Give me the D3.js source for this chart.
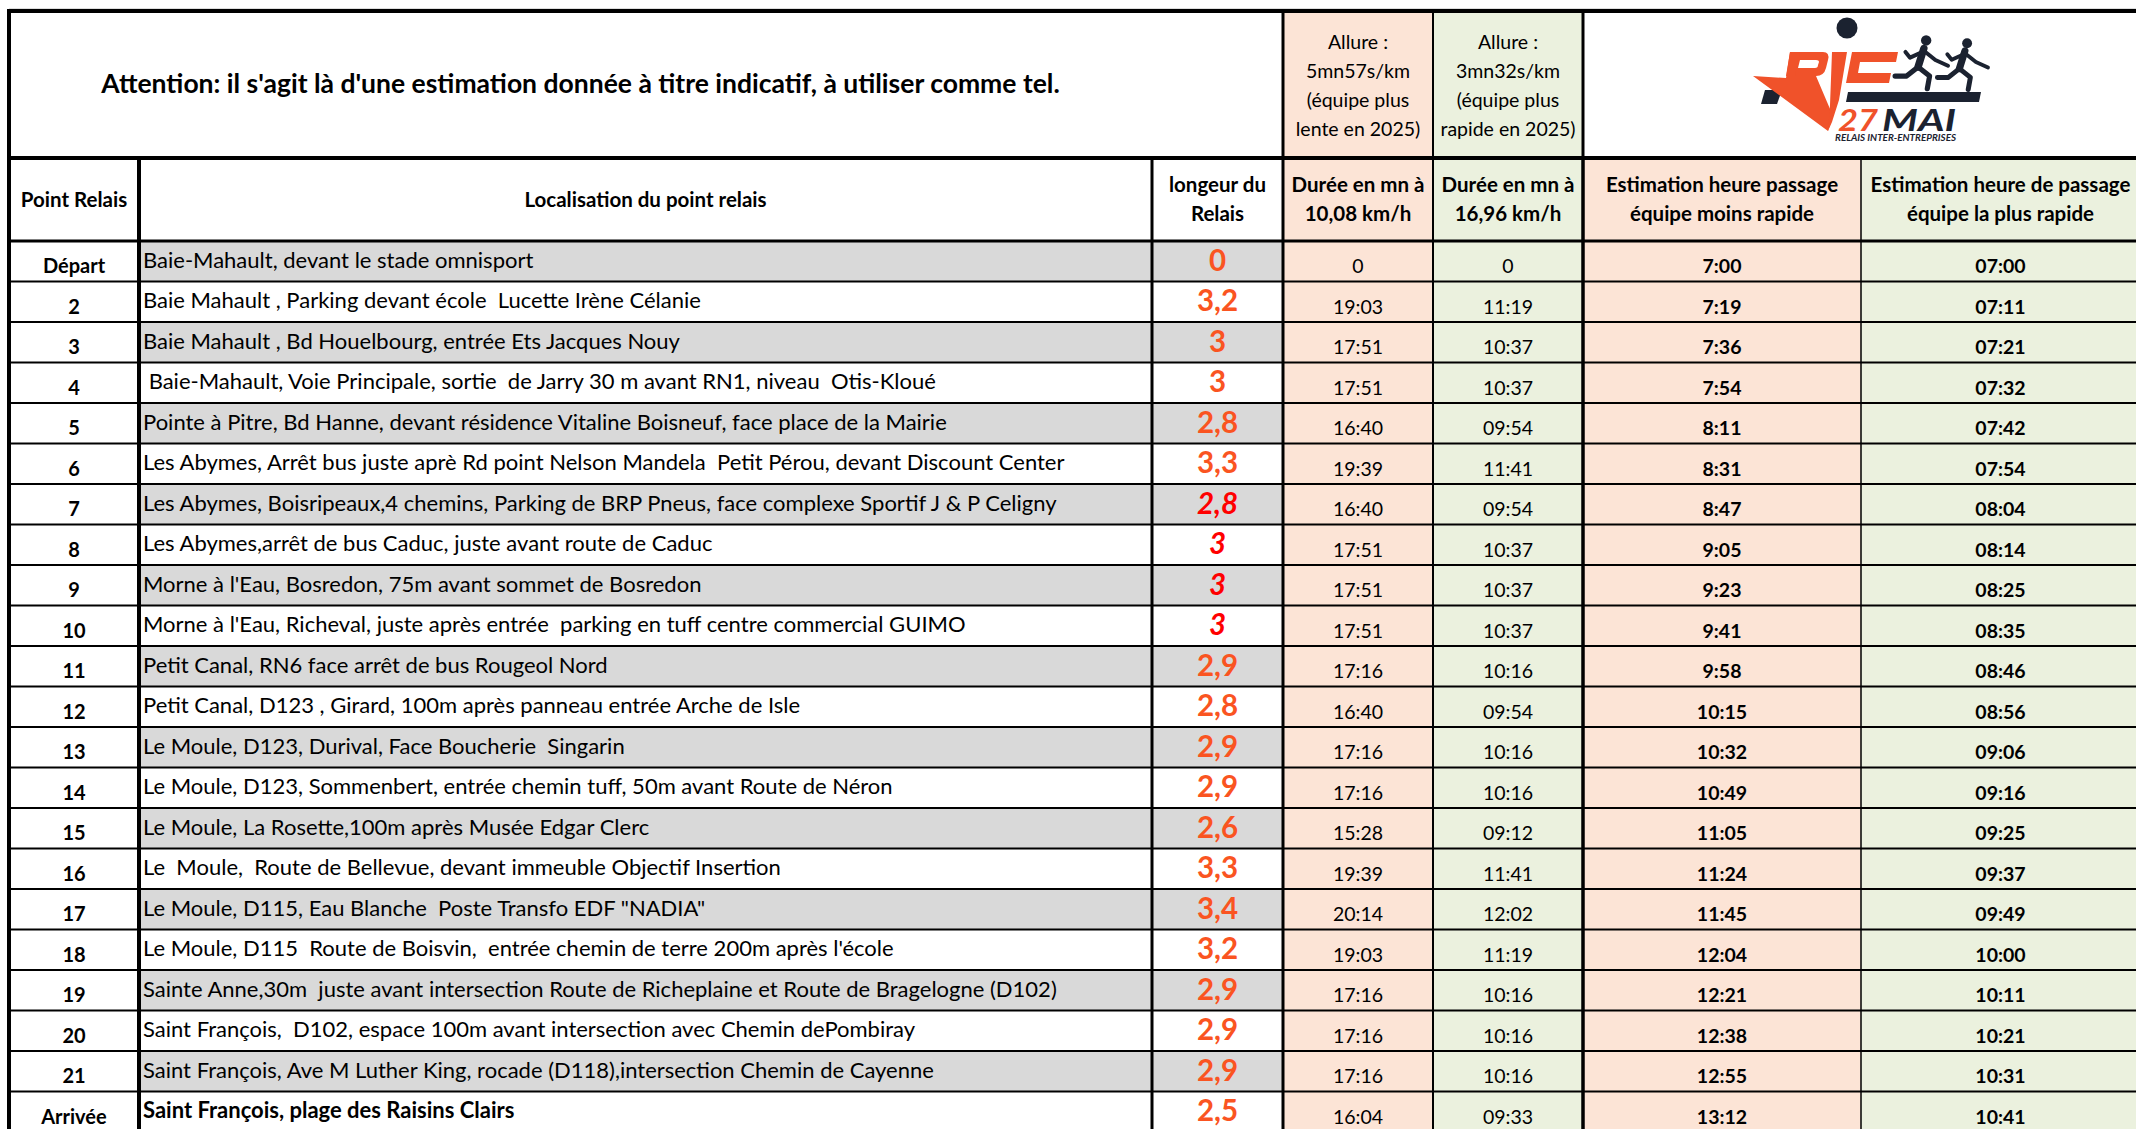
<!DOCTYPE html>
<html>
<head>
<meta charset="utf-8">
<script src="https://cdn.jsdelivr.net/npm/d3@7"></script>
<style>
  body { margin: 0; background: #fff; }
  svg { display: block; }
  text { font-family: Lato, 'Open Sans', sans-serif; white-space: pre; }
</style>
</head>
<body>
<script>
// data
const relais = ['Départ', '2', '3', '4', '5', '6', '7', '8', '9', '10', '11', '12', '13', '14', '15', '16', '17', '18', '19', '20', '21', 'Arrivée'];
const lieux = [
  'Baie-Mahault, devant le stade omnisport',
  'Baie Mahault , Parking devant école  Lucette Irène Célanie',
  'Baie Mahault , Bd Houelbourg, entrée Ets Jacques Nouy',
  ' Baie-Mahault, Voie Principale, sortie  de Jarry 30 m avant RN1, niveau  Otis-Kloué',
  'Pointe à Pitre, Bd Hanne, devant résidence Vitaline Boisneuf, face place de la Mairie',
  'Les Abymes, Arrêt bus juste aprè Rd point Nelson Mandela  Petit Pérou, devant Discount Center',
  'Les Abymes, Boisripeaux,4 chemins, Parking de BRP Pneus, face complexe Sportif J & P Celigny',
  'Les Abymes,arrêt de bus Caduc, juste avant route de Caduc',
  "Morne à l'Eau, Bosredon, 75m avant sommet de Bosredon",
  "Morne à l'Eau, Richeval, juste après entrée  parking en tuff centre commercial GUIMO",
  'Petit Canal, RN6 face arrêt de bus Rougeol Nord',
  'Petit Canal, D123 , Girard, 100m après panneau entrée Arche de Isle',
  'Le Moule, D123, Durival, Face Boucherie  Singarin',
  'Le Moule, D123, Sommenbert, entrée chemin tuff, 50m avant Route de Néron',
  'Le Moule, La Rosette,100m après Musée Edgar Clerc',
  'Le  Moule,  Route de Bellevue, devant immeuble Objectif Insertion',
  'Le Moule, D115, Eau Blanche  Poste Transfo EDF "NADIA"',
  "Le Moule, D115  Route de Boisvin,  entrée chemin de terre 200m après l'école",
  'Sainte Anne,30m  juste avant intersection Route de Richeplaine et Route de Bragelogne (D102)',
  'Saint François,  D102, espace 100m avant intersection avec Chemin dePombiray',
  'Saint François, Ave M Luther King, rocade (D118),intersection Chemin de Cayenne',
  'Saint François, plage des Raisins Clairs'
];
const longueurs = [0, 3.2, 3, 3, 2.8, 3.3, 2.8, 3, 3, 3, 2.9, 2.8, 2.9, 2.9, 2.6, 3.3, 3.4, 3.2, 2.9, 2.9, 2.9, 2.5];
const dureeLente = ['0', '19:03', '17:51', '17:51', '16:40', '19:39', '16:40', '17:51', '17:51', '17:51', '17:16', '16:40', '17:16', '17:16', '15:28', '19:39', '20:14', '19:03', '17:16', '17:16', '17:16', '16:04'];
const dureeRapide = ['0', '11:19', '10:37', '10:37', '09:54', '11:41', '09:54', '10:37', '10:37', '10:37', '10:16', '09:54', '10:16', '10:16', '09:12', '11:41', '12:02', '11:19', '10:16', '10:16', '10:16', '09:33'];
const heureLente = ['7:00', '7:19', '7:36', '7:54', '8:11', '8:31', '8:47', '9:05', '9:23', '9:41', '9:58', '10:15', '10:32', '10:49', '11:05', '11:24', '11:45', '12:04', '12:21', '12:38', '12:55', '13:12'];
const heureRapide = ['07:00', '07:11', '07:21', '07:32', '07:42', '07:54', '08:04', '08:14', '08:25', '08:35', '08:46', '08:56', '09:06', '09:16', '09:25', '09:37', '09:49', '10:00', '10:11', '10:21', '10:31', '10:41'];
const enteteColonnes = [
  ['Point Relais'],
  ['Localisation du point relais'],
  ['longeur du', 'Relais'],
  ['Durée en mn à', '10,08 km/h'],
  ['Durée en mn à', '16,96 km/h'],
  ['Estimation heure passage', 'équipe moins rapide'],
  ['Estimation heure de passage', 'équipe la plus rapide']
];
const allures = [
  ['Allure :', '5mn57s/km', '(équipe plus', 'lente en 2025)'],
  ['Allure :', '3mn32s/km', '(équipe plus', 'rapide en 2025)']
];
const avertissement = "Attention: il s'agit là d'une estimation donnée à titre indicatif, à utiliser comme tel.";
const enRouge = new Set(['7', '8', '9', '10']);

const width = 2136;
const height = 1129;
const peach = '#fce4d6';
const green = '#ebf1de';
const grey = '#d9d9d9';
const colEdges = [9, 139, 1152, 1283, 1433, 1583, 1861, 2140];
const colFill = [null, null, null, peach, green, peach, green];
const topY = 11, headY = 158, bodyY = 241, rowH = 40.5;

const svg = d3.select('body').append('svg').attr('width', width).attr('height', height);

const y = d3.scaleBand().domain(d3.range(relais.length)).range([bodyY, bodyY + rowH * relais.length]);
const fmt = v => String(v).replace('.', ',');
const cx = i => (colEdges[i] + colEdges[i + 1]) / 2;

//backgrounds
const bg = svg.append('g').attr('class', 'bg');
[[3, peach], [4, green]].forEach(([c, f]) =>
  bg.append('rect').attr('x', colEdges[c]).attr('y', topY).attr('width', colEdges[c + 1] - colEdges[c]).attr('height', headY - topY).attr('fill', f));
colFill.forEach((f, c) => {
  if (!f) return;
  bg.append('rect').attr('x', colEdges[c]).attr('y', headY).attr('width', colEdges[c + 1] - colEdges[c]).attr('height', height - headY).attr('fill', f);
});
bg.selectAll('rect.band')
  .data(relais.map((r, i) => i).filter(i => i % 2 === 0))
  .join('rect')
  .attr('class', 'band')
  .attr('x', colEdges[1]).attr('width', colEdges[3] - colEdges[1])
  .attr('y', d => y(d)).attr('height', y.bandwidth())
  .attr('fill', grey);

//grid lines
const lines = svg.append('g').attr('class', 'lines').attr('stroke', '#000');
const rowLine = d => bodyY + rowH * d;
lines.selectAll('line.row')
  .data(d3.range(1, relais.length + 1))
  .join('line')
  .attr('x1', colEdges[0]).attr('x2', width)
  .attr('y1', rowLine).attr('y2', rowLine)
  .attr('stroke-width', 2);
lines.append('line').attr('x1', colEdges[0]).attr('x2', width).attr('y1', topY - 2).attr('y2', topY - 2).attr('stroke', '#bbb').attr('stroke-width', 1);
lines.append('line').attr('x1', colEdges[0]).attr('x2', width).attr('y1', topY).attr('y2', topY).attr('stroke-width', 4);
lines.append('line').attr('x1', colEdges[0]).attr('x2', width).attr('y1', headY).attr('y2', headY).attr('stroke-width', 4);
lines.append('line').attr('x1', colEdges[0]).attr('x2', width).attr('y1', bodyY).attr('y2', bodyY).attr('stroke-width', 3);
lines.append('line').attr('x1', colEdges[0]).attr('x2', colEdges[0]).attr('y1', topY - 2).attr('y2', height).attr('stroke-width', 4);
const vBody = [[1, 4], [2, 3], [3, 3], [4, 2], [5, 3.5], [6, 1.5]];
vBody.forEach(([c, w]) =>
  lines.append('line').attr('x1', colEdges[c]).attr('x2', colEdges[c]).attr('y1', headY).attr('y2', height).attr('stroke-width', w));
[[3, 3], [4, 2], [5, 3]].forEach(([c, w]) =>
  lines.append('line').attr('x1', colEdges[c]).attr('x2', colEdges[c]).attr('y1', topY).attr('y2', headY).attr('stroke-width', w));

//top header
const head = svg.append('g').attr('class', 'head').attr('fill', '#000');
head.append('text')
  .text(avertissement)
  .attr('x', (colEdges[0] + colEdges[2]) / 2).attr('y', 93)
  .attr('text-anchor', 'middle').attr('font-weight', 'bold').attr('font-size', 26.5);
allures.forEach((ls, k) => {
  head.selectAll(null).data(ls).join('text')
    .text(d => d)
    .attr('x', cx(3 + k)).attr('y', (d, i) => 49 + i * 29)
    .attr('text-anchor', 'middle').attr('font-size', 19.5);
});

//column headers
enteteColonnes.forEach((ls, c) => {
  const y0 = ls.length === 1 ? 207 : 192;
  head.selectAll(null).data(ls).join('text')
    .text(d => d)
    .attr('x', cx(c)).attr('y', (d, i) => y0 + i * 29)
    .attr('text-anchor', 'middle').attr('font-weight', 'bold').attr('font-size', 20.5);
});

//body cells
const body = svg.append('g').attr('class', 'body');
const rows = body.selectAll('g.row')
  .data(relais.map((r, i) => ({ i, r, lieu: lieux[i], km: longueurs[i], dl: dureeLente[i], dr: dureeRapide[i], hl: heureLente[i], hr: heureRapide[i] })))
  .join('g')
  .attr('class', 'row')
  .attr('transform', d => `translate(0,${y(d.i)})`);

rows.append('text').text(d => d.r)
  .attr('x', cx(0)).attr('y', 32).attr('text-anchor', 'middle')
  .attr('font-weight', 'bold').attr('font-size', 20);
rows.append('text').text(d => d.lieu)
  .attr('x', colEdges[1] + 4).attr('y', 26.5)
  .attr('font-weight', d => d.r === 'Arrivée' ? 'bold' : 'normal').attr('font-size', 22);
rows.append('text').text(d => fmt(d.km))
  .attr('x', cx(2)).attr('y', 29.5).attr('text-anchor', 'middle')
  .attr('font-weight', 'bold').attr('font-size', 29.5)
  .attr('font-style', d => enRouge.has(d.r) ? 'italic' : 'normal')
  .attr('fill', d => enRouge.has(d.r) ? '#ff0000' : '#fa5421');
rows.append('text').text(d => d.dl)
  .attr('x', cx(3)).attr('y', 32).attr('text-anchor', 'middle').attr('font-size', 19.5);
rows.append('text').text(d => d.dr)
  .attr('x', cx(4)).attr('y', 32).attr('text-anchor', 'middle').attr('font-size', 19.5);
rows.append('text').text(d => d.hl)
  .attr('x', cx(5)).attr('y', 32).attr('text-anchor', 'middle').attr('font-weight', 'bold').attr('font-size', 19.5);
rows.append('text').text(d => d.hr)
  .attr('x', cx(6)).attr('y', 32).attr('text-anchor', 'middle').attr('font-weight', 'bold').attr('font-size', 19.5);

//logo
const orange = '#f0522a';
const navy = '#1b2230';
const logo = svg.append('g').attr('class', 'logo').attr('transform', 'translate(1740,10)');
logo.append('circle').attr('cx', 107).attr('cy', 18).attr('r', 10.5).attr('fill', navy);
// small dark wedge under the R
logo.append('path').attr('fill', navy).attr('d', 'M25,80 L42,80 L37,94 L21,94 Z');
// R bowl
logo.append('path').attr('fill', orange).attr('fill-rule', 'evenodd')
  .attr('d', 'M50,42 L83,42 Q90,42 88,50 L86,58 Q84,66 76,66 L46,66 Z M60,50 L58,58 L75,58 Q78,58 78,55 L79,52 Q79,50 76,50 Z');
// R stem, swoosh and leg forming the V
logo.append('path').attr('fill', orange)
  .attr('d', 'M13,66 L46,68 L50,42 L60,42 L55,66 L76,66 L93,106 L88,121 Z');
// I
logo.append('path').attr('fill', orange).attr('d', 'M92,42 L107,42 L99,90 L92,112 L88,121 L90,95 Z');
// E
logo.append('path').attr('fill', orange).attr('d', 'M112,42 L158,42 L156,52 L120,52 L118,63 L151,63 L149,73 L106,73 Z');
// track bar
logo.append('path').attr('fill', navy).attr('d', 'M108,82 L241,82 L239,92 L106,92 Z');
// runners
const runner = (x0, y0, s) => {
  const g = logo.append('g').attr('transform', `translate(${x0},${y0}) scale(${s})`)
    .attr('stroke', navy).attr('stroke-linecap', 'round').attr('stroke-linejoin', 'round').attr('fill', 'none');
  g.append('circle').attr('cx', 21).attr('cy', 3).attr('r', 4.5).attr('fill', navy).attr('stroke', 'none');
  g.append('path').attr('stroke-width', 6.5).attr('d', 'M19,10 L14,26');
  g.append('path').attr('stroke-width', 3.5).attr('d', 'M18,13 L7,18 L3,13 M19,12 L29,20 L40,25');
  g.append('path').attr('stroke-width', 4.5).attr('d', 'M14,26 L4,34 L-6,34 M14,26 L24,34 L22,45');
};
runner(162, 27, 1.15);
runner(204, 30, 1.1);
logo.append('text').text('27').attr('x', 98).attr('y', 121)
  .attr('font-family', "'DejaVu Sans', sans-serif")
  .attr('font-size', 30).attr('font-weight', 'bold').attr('font-style', 'italic').attr('fill', orange)
  .attr('textLength', 40).attr('lengthAdjust', 'spacingAndGlyphs');
logo.append('text').text('MAI').attr('x', 142).attr('y', 121)
  .attr('font-family', "'DejaVu Sans', sans-serif")
  .attr('font-size', 30).attr('font-weight', 'bold').attr('font-style', 'italic').attr('fill', navy)
  .attr('textLength', 74).attr('lengthAdjust', 'spacingAndGlyphs');
logo.append('text').text('RELAIS INTER-ENTREPRISES').attr('x', 95).attr('y', 131)
  .attr('font-family', "'DejaVu Sans Condensed', 'DejaVu Sans', sans-serif")
  .attr('font-size', 8.5).attr('font-weight', 'bold').attr('font-style', 'italic').attr('fill', navy)
  .attr('textLength', 121).attr('lengthAdjust', 'spacingAndGlyphs');
</script>
</body>
</html>
